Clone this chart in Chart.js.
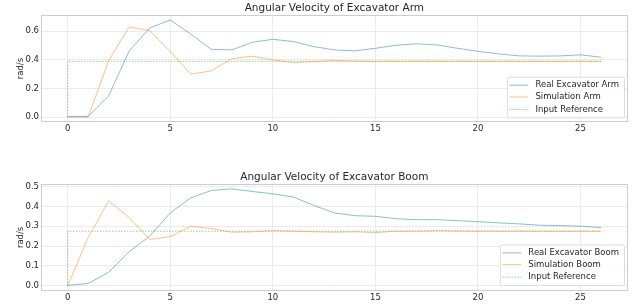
<!DOCTYPE html>
<html><head><meta charset="utf-8">
<script src="https://cdn.jsdelivr.net/npm/chart.js@4"></script>
<style>
html,body{margin:0;padding:0;background:#fff;width:636px;height:304px;overflow:hidden}
canvas{position:absolute;left:0;display:block}
#c1{top:0}
#c2{top:160px}
</style></head><body>
<canvas id="c1" width="636" height="160"></canvas>
<canvas id="c2" width="636" height="144"></canvas>
<script>
const time = [0,1,2,3,4,5,6,7,8,9,10,11,12,13,14,15,16,17,18,19,20,21,22,23,24,25,26];
const armReal = [0.005,0.005,0.149,0.463,0.623,0.679,0.580,0.474,0.470,0.523,0.544,0.528,0.493,0.470,0.463,0.481,0.502,0.512,0.505,0.481,0.460,0.442,0.428,0.426,0.428,0.435,0.419];
const armSim  = [0.000,0.000,0.395,0.630,0.605,0.458,0.300,0.323,0.409,0.426,0.400,0.381,0.388,0.396,0.392,0.390,0.390,0.391,0.390,0.390,0.390,0.390,0.390,0.390,0.390,0.390,0.390];
const armRefT = [0,0,26];
const armRef  = [0,0.39,0.39];
const boomReal = [0.002,0.012,0.068,0.172,0.250,0.367,0.443,0.480,0.488,0.475,0.463,0.447,0.405,0.367,0.353,0.350,0.338,0.333,0.333,0.328,0.323,0.317,0.312,0.305,0.303,0.300,0.293];
const boomSim  = [0.000,0.243,0.428,0.343,0.233,0.248,0.300,0.288,0.270,0.272,0.278,0.275,0.272,0.270,0.272,0.268,0.275,0.275,0.278,0.276,0.275,0.275,0.275,0.275,0.275,0.275,0.275];
const boomRefT = [0,0,26];
const boomRef  = [0,0.275,0.275];
const xTicks = [0,5,10,15,20,25];
const armYTicks = [0,0.2,0.4,0.6];
const boomYTicks = [0,0.1,0.2,0.3,0.4,0.5];

const FONT = "'DejaVu Sans', sans-serif";
const TXT = '#262626';
const BLUE = 'rgba(31,119,180,0.5)';
const ORANGE = 'rgba(255,127,14,0.5)';
const GREEN = 'rgba(44,160,44,0.5)';

const frameLegend = {
  id:'frameLegend',
  afterDraw(chart, args, opts){
    const ctx = chart.ctx, a = chart.chartArea;
    ctx.save();
    ctx.strokeStyle = '#cccccc'; ctx.lineWidth = 1;
    ctx.strokeRect(Math.round(a.left)+0.5, Math.round(a.top)+0.5, Math.round(a.right-a.left)-1, Math.round(a.bottom-a.top)-1);
    ctx.font = `8.5px ${FONT}`;
    const ds = chart.data.datasets;
    let tw = 0; ds.forEach(d=>{tw=Math.max(tw,ctx.measureText(d.label).width);});
    const w = 28.5 + tw + 5, h = 40.6;
    const right = a.right - 3.7, bottom = a.bottom - opts.bottomGap;
    const left = right - w, top = bottom - h;
    ctx.fillStyle = 'rgba(255,255,255,0.8)';
    ctx.strokeStyle = '#dddddd';
    ctx.beginPath();
    if (ctx.roundRect) ctx.roundRect(left+0.5, top+0.5, w, h, 2); else ctx.rect(left+0.5, top+0.5, w, h);
    ctx.fill(); ctx.stroke();
    const rows = [8, 19.8, 32.3];
    ds.forEach((d,i)=>{
      const y = top + rows[i];
      ctx.strokeStyle = d.borderColor; ctx.lineWidth = 1;
      ctx.setLineDash(d.borderDash || []);
      ctx.beginPath(); ctx.moveTo(left+2.5, y+0.5); ctx.lineTo(left+21.5, y+0.5); ctx.stroke();
      ctx.setLineDash([]);
      ctx.fillStyle = TXT; ctx.textBaseline = 'middle'; ctx.textAlign = 'left';
      ctx.fillText(d.label, left+28.5, y+0.5);
    });
    ctx.restore();
  }
};

function series(label, xs, ys, color, dash){
  return {label, data: xs.map((x,i)=>({x, y: ys[i]})), borderColor: color, backgroundColor: color,
    borderWidth: 1, borderDash: dash, pointRadius: 0, tension: 0, fill: false};
}

function makeChart(id, title, dsets, yMin, yMax, yTicks, xAxisH, titlePadTop, bottomGap){
  return new Chart(document.getElementById(id), {
    type:'line',
    data:{datasets: dsets},
    plugins:[frameLegend],
    options:{
      responsive:false, devicePixelRatio:1, animation:false,
      layout:{padding:{left:0,right:8.3,top:0,bottom:0}},
      plugins:{
        legend:{display:false}, tooltip:{enabled:false},
        title:{display:true, fullSize:false, text:title, color:TXT, font:{family:FONT, size:10.5, weight:'normal', lineHeight:1.2},
          padding:{top:titlePadTop, bottom:0.4}},
        frameLegend:{bottomGap}
      },
      scales:{
        x:{type:'linear', min:-1.3, max:27.3,
          afterBuildTicks(s){ s.ticks = xTicks.map(v=>({value:v})); },
          afterFit(s){ s.height = xAxisH; },
          grid:{color:'#ebebeb', lineWidth:1, drawTicks:false},
          border:{display:false},
          ticks:{color:TXT, font:{family:FONT,size:8.5}, padding:2, maxRotation:0, callback:v=>String(v)}
        },
        y:{type:'linear', min:yMin, max:yMax,
          afterBuildTicks(s){ s.ticks = yTicks.map(v=>({value:v})); },
          afterFit(s){ s.width = 41; },
          grid:{color:'#ebebeb', lineWidth:1, drawTicks:false},
          border:{display:false},
          title:{display:true, text:'rad/s', color:TXT, font:{family:FONT,size:8.5}, padding:{top:15.5,bottom:0}},
          ticks:{color:TXT, font:{family:FONT,size:8.5}, padding:2, callback:v=>v.toFixed(1)}
        }
      }
    }
  });
}

makeChart('c1','Angular Velocity of Excavator Arm',[
  series('Real Excavator Arm', time, armReal, BLUE),
  series('Simulation Arm', time, armSim, ORANGE),
  series('Input Reference', armRefT, armRef, GREEN, [1.5,1.5])
], -0.034, 0.713, armYTicks, 38, 2.1, 4.7);

makeChart('c2','Angular Velocity of Excavator Boom',[
  series('Real Excavator Boom', time, boomReal, BLUE),
  series('Simulation Boom', time, boomSim, ORANGE),
  series('Input Reference', boomRefT, boomRef, GREEN, [1.5,1.5])
], -0.0244, 0.512, boomYTicks, 13.3, 11.1, 5.7);
</script>
</body></html>
